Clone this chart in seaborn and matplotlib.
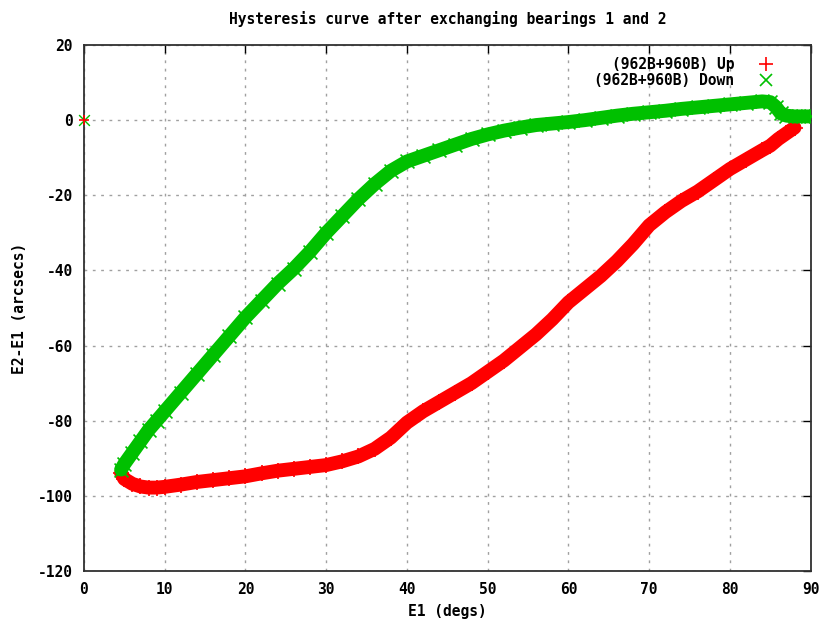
import numpy as np
import pandas as pd
import matplotlib
matplotlib.use("Agg")
import matplotlib.pyplot as plt
from matplotlib.lines import Line2D
import seaborn as sns

# values
up_e1 = [4.6, 5, 6, 7, 8, 9, 10, 12, 14, 16, 18, 20, 22, 24, 26, 28, 30, 32, 34, 36,
         38, 40, 42, 44, 46, 48, 50, 52, 54, 56, 58, 60, 62, 64, 66, 68, 70, 72, 74,
         76, 78, 80, 82, 84, 85, 86, 87, 88]
up_val = [-94, -95.5, -96.8, -97.5, -97.8, -97.8, -97.6, -97, -96.3, -95.8, -95.3, -94.8,
          -94, -93.3, -92.8, -92.3, -91.8, -90.8, -89.5, -87.5, -84.5, -80.5, -77.5, -75,
          -72.5, -70, -67, -64, -60.5, -57, -53, -48.5, -45, -41.5, -37.5, -33, -28, -24.5,
          -21.5, -19, -16, -13, -10.5, -8, -6.8, -5, -3.5, -2]

down_e1 = [4.6, 5, 6, 7, 8, 9, 10, 12, 14, 16, 18, 20, 22, 24, 26, 28, 30, 32, 34, 36,
           38, 40, 42, 44, 46, 48, 50, 52, 54, 56, 58, 60, 62, 64, 66, 68, 70, 72, 74,
           76, 78, 80, 82, 84, 85, 85.7, 86.3, 87, 88, 89, 90]
down_val = [-93, -91.5, -88.5, -85.5, -82.5, -80, -77.5, -72.5, -67.5, -62.5, -57.5, -52.5,
            -48, -43.5, -39.5, -35, -30, -25.5, -21, -17, -13.5, -11, -9.5, -8, -6.5, -5,
            -3.8, -2.8, -2, -1.3, -0.9, -0.5, 0, 0.6, 1.2, 1.7, 2.1, 2.5, 3, 3.4, 3.8, 4.2,
            4.6, 5, 4.8, 3.5, 1.8, 1.2, 1.0, 1.0, 1.0]

# lone reading at the origin for both series
origin_e1 = [0]
origin_val = [0]

x_ticks = list(range(0, 91, 10))
y_ticks = list(range(-120, 21, 20))

title = "Hysteresis curve after exchanging bearings 1 and 2"
label_up = "(962B+960B) Up"
label_down = "(962B+960B) Down"

red = "#ff0000"
green = "#00c000"

sns.set_style("white")
plt.rcParams["font.family"] = ["DejaVu Sans Mono"]
plt.rcParams["font.weight"] = "bold"
plt.rcParams["font.size"] = 10.5
plt.rcParams["axes.unicode_minus"] = False
plt.rcParams["text.color"] = "black"
plt.rcParams["axes.labelcolor"] = "black"
plt.rcParams["xtick.color"] = "black"
plt.rcParams["ytick.color"] = "black"

up = pd.DataFrame({"E1": up_e1, "diff": up_val})
down = pd.DataFrame({"E1": down_e1, "diff": down_val})

fig = plt.figure(figsize=(8.23, 6.21), dpi=100)
ax = fig.add_axes([0.102, 0.0805, 0.883, 0.847])

ax.grid(True, color="#a0a0a0", linestyle=(0, (2, 4)), linewidth=1)
ax.set_axisbelow(True)

# thick band + markers, like the dense cloud of gnuplot points
sns.lineplot(data=up, x="E1", y="diff", sort=False, estimator=None, color=red,
             linewidth=10, ax=ax, zorder=2)
sns.scatterplot(data=up, x="E1", y="diff", marker="+", s=130, color=red,
                linewidth=1.2, ax=ax, zorder=3)
sns.lineplot(data=down, x="E1", y="diff", sort=False, estimator=None, color=green,
             linewidth=10, ax=ax, zorder=4)
sns.scatterplot(data=down, x="E1", y="diff", marker="x", s=100, color=green,
                linewidth=1.2, ax=ax, zorder=5)

ax.scatter(origin_e1, origin_val, marker="x", s=60, color=green, linewidth=1, zorder=6, clip_on=False)
ax.scatter(origin_e1, origin_val, marker="+", s=60, color=red, linewidth=1.2, zorder=7, clip_on=False)

ax.set_xlim(0, 90)
ax.set_ylim(-120, 20)
ax.set_xticks(x_ticks)
ax.set_yticks(y_ticks)
ax.tick_params(direction="in", length=6, width=1, top=True, right=True,
               labelsize=10.5, pad=8)
for s in ax.spines.values():
    s.set_color("#303030")
    s.set_linewidth(1.3)

ax.set_xlabel("E1 (degs)", fontsize=10.5, fontweight="bold", labelpad=5)
ax.set_ylabel("E2-E1 (arcsecs)", fontsize=10.5, fontweight="bold", labelpad=8)
ax.set_title(title, fontsize=10.5, fontweight="bold", pad=15)

handles = [
    Line2D([], [], linestyle="none", marker="+", color=red, markersize=10, markeredgewidth=1.2),
    Line2D([], [], linestyle="none", marker="x", color=green, markersize=8, markeredgewidth=1.2),
]
ax.legend(handles, [label_up, label_down], loc="upper right", frameon=False,
          markerfirst=False, handlelength=2, handletextpad=1.2, labelspacing=0.1,
          bbox_to_anchor=(0.975, 1.0), borderaxespad=0.4,
          prop={"family": "DejaVu Sans Mono", "weight": "bold", "size": 10.5})

fig.savefig("out.png", dpi=100)
